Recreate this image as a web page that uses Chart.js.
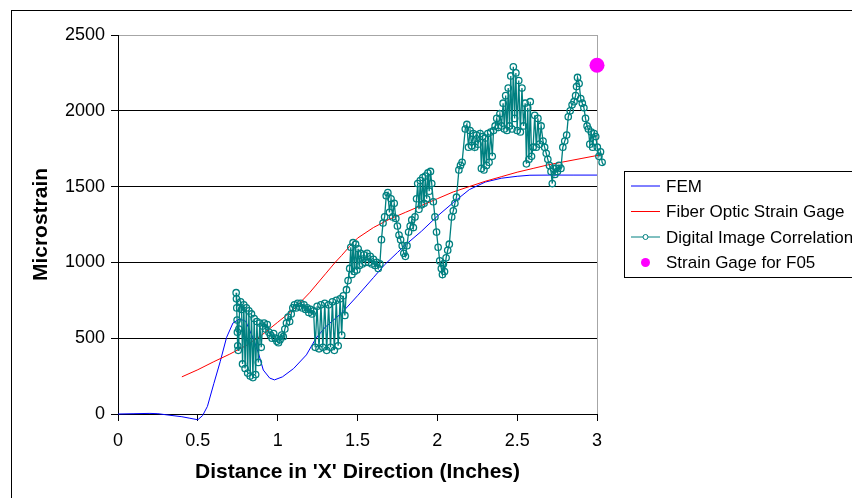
<!DOCTYPE html>
<html>
<head>
	<meta charset="utf-8">
	<script src="https://cdn.jsdelivr.net/npm/chart.js@4.4.1/dist/chart.umd.min.js"></script>
	<style>
		html, body { margin: 0; padding: 0; background: #fff; }
		#wrap { width: 852px; height: 498px; }
	</style>
</head>
<body>
	<div id="wrap"><canvas id="canvas" width="852" height="498"></canvas></div>
	<script type="text/javascript">

	// FEM prediction
	var femX = [0, 0.1, 0.2, 0.25, 0.3, 0.4, 0.45, 0.5, 0.53, 0.56, 0.6, 0.64, 0.68, 0.72, 0.76, 0.8, 0.85, 0.88, 0.91, 0.95, 0.98, 1.03, 1.1, 1.18, 1.24, 1.3, 1.4, 1.5, 1.6, 1.67, 1.75, 1.8, 1.9, 2.0, 2.1, 2.2, 2.3, 2.4, 2.5, 2.58, 2.7, 2.85, 3.0];
	var femY = [0, 2, 4, 2, -5, -18, -28, -38, -10, 50, 200, 345, 505, 600, 627, 612, 490, 400, 290, 237, 225, 245, 300, 390, 500, 575, 665, 780, 900, 985, 1065, 1115, 1205, 1305, 1395, 1480, 1530, 1555, 1568, 1575, 1576, 1576, 1576];

	// fiber optic gage
	var fiberX = [0.4, 0.5, 0.6, 0.7, 0.8, 0.9, 1.0, 1.1, 1.2, 1.3, 1.36, 1.4, 1.45, 1.5, 1.6, 1.7, 1.8, 1.9, 2.0, 2.1, 2.2, 2.3, 2.4, 2.5, 2.6, 2.7, 2.8, 2.9, 3.0, 3.04];
	var fiberY = [245, 292, 345, 395, 450, 520, 605, 690, 800, 925, 1000, 1045, 1105, 1160, 1230, 1285, 1330, 1375, 1420, 1465, 1500, 1535, 1565, 1595, 1620, 1645, 1665, 1685, 1705, 1712];

	// digital image correlation
	var dicX = [0.740, 0.742, 0.744, 0.746, 0.748, 0.750, 0.753, 0.757, 0.762, 0.768, 0.774, 0.780, 0.788, 0.796, 0.804, 0.812, 0.820, 0.828, 0.836, 0.845,
		0.853, 0.862, 0.870, 0.879, 0.888, 0.897, 0.906, 0.915, 0.925, 0.935, 0.945, 0.955, 0.965, 0.975, 0.985, 0.995, 1.005, 1.015, 1.025, 1.035,
		1.045, 1.055, 1.065, 1.075, 1.085, 1.095, 1.105, 1.115, 1.125, 1.135, 1.145, 1.155, 1.165, 1.175, 1.185, 1.195, 1.205, 1.215, 1.225, 1.235,
		1.247, 1.259, 1.271, 1.283, 1.295, 1.307, 1.319, 1.331, 1.343, 1.355, 1.367, 1.379, 1.391, 1.401, 1.411, 1.421, 1.431, 1.441, 1.451, 1.458,
		1.465, 1.472, 1.480, 1.488, 1.496, 1.504, 1.512, 1.520, 1.530, 1.540, 1.550, 1.560, 1.570, 1.580, 1.590, 1.600, 1.610, 1.620, 1.630, 1.640,
		1.650, 1.660, 1.670, 1.680, 1.690, 1.700, 1.710, 1.720, 1.730, 1.740, 1.750, 1.760, 1.770, 1.780, 1.790, 1.800, 1.810, 1.820, 1.830, 1.840,
		1.850, 1.860, 1.870, 1.877, 1.885, 1.893, 1.901, 1.909, 1.917, 1.925, 1.933, 1.941, 1.949, 1.957, 1.965, 1.975, 1.985, 1.995, 2.005, 2.015,
		2.025, 2.032, 2.038, 2.045, 2.055, 2.065, 2.075, 2.090, 2.100, 2.110, 2.120, 2.135, 2.145, 2.155, 2.175, 2.185, 2.195, 2.205, 2.215, 2.225,
		2.235, 2.245, 2.255, 2.268, 2.276, 2.284, 2.292, 2.300, 2.308, 2.316, 2.324, 2.334, 2.344, 2.352, 2.362, 2.372, 2.382, 2.392, 2.402, 2.412,
		2.420, 2.428, 2.436, 2.444, 2.452, 2.460, 2.468, 2.476, 2.484, 2.492, 2.500, 2.510, 2.520, 2.530, 2.540, 2.550, 2.558, 2.566, 2.574, 2.582,
		2.590, 2.600, 2.610, 2.620, 2.630, 2.640, 2.650, 2.662, 2.672, 2.682, 2.692, 2.702, 2.712, 2.720, 2.728, 2.736, 2.744, 2.752, 2.762, 2.774,
		2.786, 2.798, 2.810, 2.820, 2.832, 2.844, 2.856, 2.866, 2.872, 2.878, 2.888, 2.898, 2.908, 2.918, 2.928, 2.938, 2.946, 2.955, 2.964, 2.973,
		2.982, 2.992, 3.002, 3.012, 3.022, 3.032, 3.042];
	var dicY = [800, 760, 700, 620, 540, 450, 420, 560, 700, 740, 690, 330, 720, 300, 700, 270, 680, 250, 660, 240,
		630, 260, 610, 340, 600, 440, 580, 600, 560, 590, 540, 520, 500, 530, 500, 480, 470, 490, 520, 510,
		560, 600, 640, 610, 660, 700, 720, 700, 730, 710, 730, 700, 720, 690, 700, 670, 690, 660, 680, 440,
		710, 430, 720, 440, 730, 420, 720, 440, 740, 420, 750, 450, 760, 520, 780, 650, 820, 880, 960, 1100,
		920, 1130, 940, 1120, 950, 1090, 980, 1060, 990, 1050, 1000, 1060, 1000, 1040, 990, 1020, 980, 1000, 960, 990,
		1150, 1260, 1300, 1440, 1460, 1330, 1420, 1300, 1390, 1290, 1240, 1180, 1150, 1110, 1060, 1040, 1110, 1200, 1240, 1280,
		1230, 1300, 1420, 1520, 1350, 1540, 1380, 1560, 1390, 1570, 1420, 1590, 1470, 1600, 1520, 1400, 1300, 1200, 1100, 1010,
		960, 920, 990, 940, 1030, 1080, 1120, 1300, 1340, 1390, 1430, 1610, 1640, 1660, 1880, 1910, 1760, 1870, 1770, 1850,
		1760, 1840, 1780, 1850, 1620, 1830, 1610, 1820, 1640, 1850, 1660, 1860, 1700, 1870, 1900, 1950, 1890, 1980, 1900, 2050,
		1880, 2100, 1870, 2150, 1900, 2230, 1880, 2290, 1950, 2250, 1870, 2200, 1860, 2150, 1900, 2050, 1650, 2020, 1680, 2060,
		1700, 1760, 1970, 1760, 1950, 1780, 1900, 1800, 1760, 1720, 1680, 1640, 1600, 1520, 1620, 1580, 1620, 1600, 1640, 1620,
		1760, 1800, 1840, 1960, 2000, 2040, 2060, 2100, 2160, 2220, 2180, 2080, 2050, 2020, 1950, 1900, 1880, 1780, 1860, 1760,
		1850, 1830, 1760, 1700, 1730, 1660, 1640];

	// strain gage reading
	var gageX = [3.0];
	var gageY = [2300];

	var xTicks = [0, 0.5, 1, 1.5, 2, 2.5, 3];
	var yTicks = [0, 500, 1000, 1500, 2000, 2500];

	var seriesNames = ['FEM', 'Fiber Optic Strain Gage', 'Digital Image Correlation', 'Strain Gage for F05'];

	function pts(xs, ys) {
		var out = [];
		for (var i = 0; i < xs.length; i++) out.push({x: xs[i], y: ys[i]});
		return out;
	}

	var FONT = "'Liberation Sans', Arial, sans-serif";

	// white page with the chart frame
	var framePlugin = {
		id: 'frame',
		beforeDraw: function(chart) {
			var c = chart.ctx;
			c.save();
			c.fillStyle = '#fff';
			c.fillRect(0, 0, chart.width, chart.height);
			c.strokeStyle = '#000';
			c.lineWidth = 1;
			c.strokeRect(11.5, 10.5, 1000, 1000);
			c.restore();
		}
	};

	// boxed legend to the right of the plot
	var legendPlugin = {
		id: 'boxLegend',
		afterDraw: function(chart) {
			var c = chart.ctx;
			var x0 = 624.5, y0 = 171.5;
			c.save();
			c.fillStyle = '#fff';
			c.fillRect(x0, y0, 300, 106);
			c.strokeStyle = '#000';
			c.lineWidth = 1;
			c.strokeRect(x0, y0, 300, 106);
			c.font = '17px ' + FONT;
			c.textBaseline = 'middle';
			c.textAlign = 'left';
			var rows = [186, 211.5, 237, 262.5];
			var ds = chart.data.datasets;
			for (var i = 0; i < rows.length; i++) {
				var y = rows[i];
				var d = ds[i];
				if (d.showLine !== false) {
					c.strokeStyle = d.borderColor;
					c.lineWidth = 1;
					c.beginPath();
					c.moveTo(631, y);
					c.lineTo(660, y);
					c.stroke();
				}
				if (i == 2) {
					c.beginPath();
					c.arc(645.5, y, 2.5, 0, Math.PI * 2);
					c.fillStyle = '#fff';
					c.fill();
					c.strokeStyle = d.pointBorderColor;
					c.stroke();
				}
				if (i == 3) {
					c.beginPath();
					c.arc(645.5, y, 4.5, 0, Math.PI * 2);
					c.fillStyle = d.pointBackgroundColor;
					c.fill();
				}
				c.fillStyle = '#000';
				c.fillText(seriesNames[i], 666, y + 1);
			}
			c.restore();
		}
	};

	var ctx = document.getElementById('canvas').getContext('2d');
	var chart = new Chart(ctx, {
		type: 'scatter',
		data: {
			datasets: [
				{
					label: seriesNames[0],
					data: pts(femX, femY),
					showLine: true,
					borderColor: '#0000ff',
					borderWidth: 1,
					pointRadius: 0,
					tension: 0,
					clip: false,
					order: 3
				},
				{
					label: seriesNames[1],
					data: pts(fiberX, fiberY),
					showLine: true,
					borderColor: '#ff0000',
					borderWidth: 1,
					pointRadius: 0,
					tension: 0,
					clip: false,
					order: 2
				},
				{
					label: seriesNames[2],
					data: pts(dicX, dicY),
					showLine: true,
					borderColor: '#008080',
					borderWidth: 1.3,
					pointRadius: 3.2,
					pointBorderWidth: 1.3,
					pointBorderColor: '#008080',
					pointBackgroundColor: 'rgba(255,255,255,0)',
					tension: 0,
					clip: false,
					order: 1
				},
				{
					label: seriesNames[3],
					data: pts(gageX, gageY),
					showLine: false,
					pointRadius: 7.5,
					pointBorderWidth: 0,
					pointBackgroundColor: '#ff00ff',
					pointBorderColor: '#ff00ff',
					clip: false,
					order: 0
				}
			]
		},
		options: {
			responsive: false,
			animation: false,
			events: [],
			layout: { padding: { left: 0, top: 35, right: 255, bottom: 0 } },
			plugins: {
				legend: { display: false },
				tooltip: { enabled: false }
			},
			scales: {
				x: {
					type: 'linear',
					// range set here so the last readings past 3 in. are still drawn
					afterDataLimits: function(s) { s.min = 0; s.max = 3; },
					afterFit: function(s) { s.height = 84; },
					afterBuildTicks: function(s) { s.ticks = xTicks.map(function(v) { return {value: v}; }); },
					border: { color: '#000', width: 1 },
					grid: {
						drawTicks: true,
						tickLength: 7,
						tickColor: '#000',
						color: function(c) { return c.tick && c.tick.value === 3 ? '#a6a6a6' : 'rgba(0,0,0,0)'; },
						lineWidth: 1
					},
					ticks: {
						color: '#000',
						padding: 9,
						maxRotation: 0,
						autoSkip: false,
						font: { family: FONT, size: 18 },
						callback: function(v) { return String(v); }
					},
					title: {
						display: true,
						text: "Distance in 'X' Direction (Inches)",
						color: '#000',
						padding: { top: 13, bottom: 13 },
						font: { family: FONT, size: 21, weight: 'bold' }
					}
				},
				y: {
					type: 'linear',
					afterDataLimits: function(s) { s.min = 0; s.max = 2500; },
					afterFit: function(s) { s.width = 118; },
					afterBuildTicks: function(s) { s.ticks = yTicks.map(function(v) { return {value: v}; }); },
					border: { color: '#000', width: 1 },
					grid: {
						drawTicks: true,
						tickLength: 7,
						tickColor: '#000',
						color: function(c) { return c.tick && c.tick.value === 2500 ? '#a6a6a6' : '#000'; },
						lineWidth: 1
					},
					ticks: {
						color: '#000',
						padding: 6,
						font: { family: FONT, size: 18 },
						callback: function(v) { return String(v); }
					},
					title: {
						display: true,
						text: 'Microstrain',
						color: '#000',
						padding: { top: 29, bottom: 0 },
						font: { family: FONT, size: 21, weight: 'bold' }
					}
				}
			}
		},
		plugins: [framePlugin, legendPlugin]
	});

	</script>
</body>
</html>
